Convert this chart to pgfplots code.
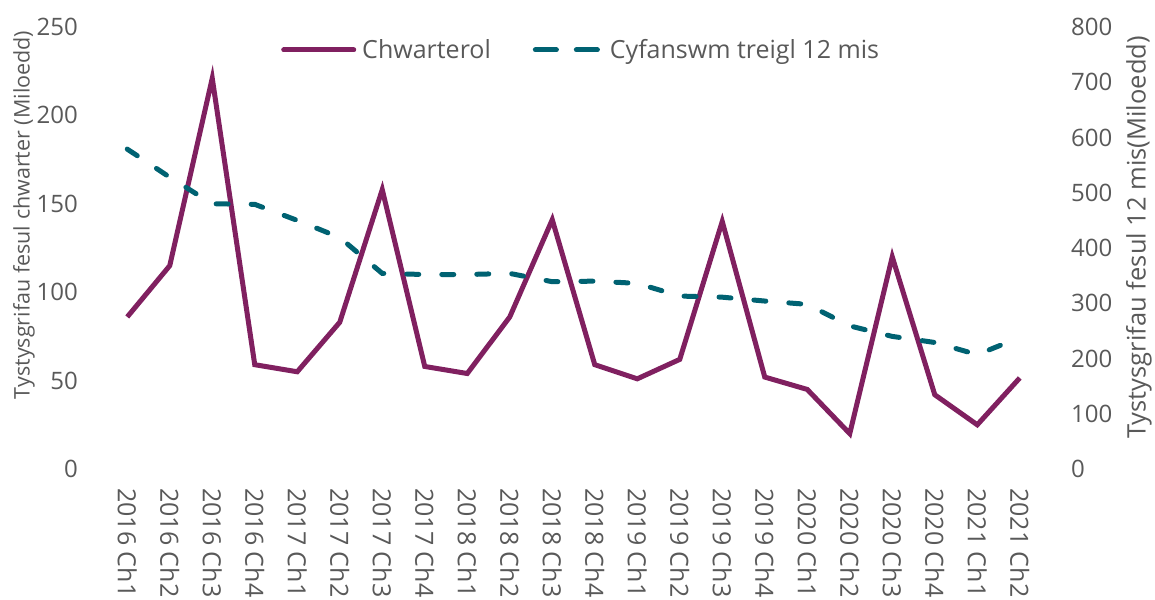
\documentclass[border=0pt]{standalone}
\usepackage{pgfplots}
\pgfplotsset{compat=1.18}
\usepackage{fontspec}
\setmainfont{Open Sans}
\definecolor{cpurple}{RGB}{128,32,96}
\definecolor{cteal}{RGB}{0,98,114}
\definecolor{tgray}{RGB}{89,89,89}

\pgfplotstableread{
x q
0 86
1 115
2 221
3 59
4 55
5 83
6 158
7 58
8 54
9 86
10 141
11 59
12 51
13 62
14 140
15 52
16 45
17 20
18 120
19 42
20 25
21 51.5
}\quarterly

\pgfplotstableread{
x r
0 579
1 528
2 480
3 479
4 450
5 419
6 354
7 352
8 352
9 354
10 339
11 340
12 336
13 313
14 311
15 304
16 298
17 259
18 240
19 229
20 207
21 238
}\rolling

\begin{document}
\begin{tikzpicture}
\pgfplotsset{
  base/.style={
    scale only axis, width=935pt, height=442pt,
    xmin=-0.5, xmax=21.5,
    axis line style={draw=none},
    tick style={draw=none},
    major tick length=0pt,
    tick label style={text=tgray},
    label style={text=tgray},
    /pgf/number format/assume math mode=true,
  }
}
\begin{axis}[base,
  axis x line*=bottom, axis y line*=left,
  ymin=0, ymax=250, ytick={0,50,...,250},
  yticklabel style={anchor=east, inner sep=0pt, xshift=-28pt, font=\fontsize{24}{28}\selectfont},
  xtick={0,...,21},
  xticklabels={2016 Ch1,2016 Ch2,2016 Ch3,2016 Ch4,2017 Ch1,2017 Ch2,2017 Ch3,2017 Ch4,2018 Ch1,2018 Ch2,2018 Ch3,2018 Ch4,2019 Ch1,2019 Ch2,2019 Ch3,2019 Ch4,2020 Ch1,2020 Ch2,2020 Ch3,2020 Ch4,2021 Ch1,2021 Ch2},
  xticklabel style={yshift=-19pt, rotate=-90, anchor=west, inner sep=0pt, font=\fontsize{25}{28}\selectfont},
  ylabel={Tystysgrifau fesul chwarter (Miloedd)},
  ylabel style={at={(rel axis cs:-0.0877,0.575)}, anchor=center, font=\fontsize{21.5}{25}\selectfont},
]
\addplot[cpurple, line width=5pt, line join=miter] table[x=x,y=q] {\quarterly};
\coordinate (sw) at (rel axis cs:0,0);
\coordinate (ne) at (rel axis cs:1,1);
\end{axis}
\begin{axis}[base,
  axis x line=none, axis y line*=right,
  ymin=0, ymax=800, ytick={0,100,...,800},
  yticklabel style={anchor=west, inner sep=0pt, xshift=30pt, font=\fontsize{24}{28}\selectfont},
  ylabel={Tystysgrifau fesul 12 mis(Miloedd)},
  ylabel style={at={(rel axis cs:1.1048,0.524)}, anchor=center, font=\fontsize{25.5}{30}\selectfont},
  legend style={at={(rel axis cs:0.1872,0.948)}, anchor=west, draw=none, fill=none, inner sep=0pt,
    nodes={inner sep=0pt, text=tgray, font=\fontsize{25}{29}\selectfont},
    /tikz/every odd column/.style={column sep=6pt},
    /tikz/every even column/.style={column sep=42pt},
    /tikz/column 3/.style={column sep=10pt}},
  legend columns=2,
]
\addlegendimage{cpurple, line width=5pt, line cap=round, legend image code/.code={\draw[cpurple, line width=5pt, line cap=round] (0pt,0pt) -- (70pt,0pt);}}
\addlegendentry{Chwarterol}
\addplot[cteal, line width=5pt, line cap=round, dash pattern=on 12pt off 23pt,
  legend image code/.code={\draw[cteal, line width=5pt, line cap=round, dash pattern=on 21pt off 20pt] (0pt,0pt) -- (66pt,0pt);}]
  table[x=x,y=r] {\rolling};
\addlegendentry{Cyfanswm treigl 12 mis}
\end{axis}
\pgfresetboundingbox
\path ([shift={(-106pt,-130pt)}]sw) rectangle ([shift={(114pt,27pt)}]ne);
\end{tikzpicture}
\end{document}
